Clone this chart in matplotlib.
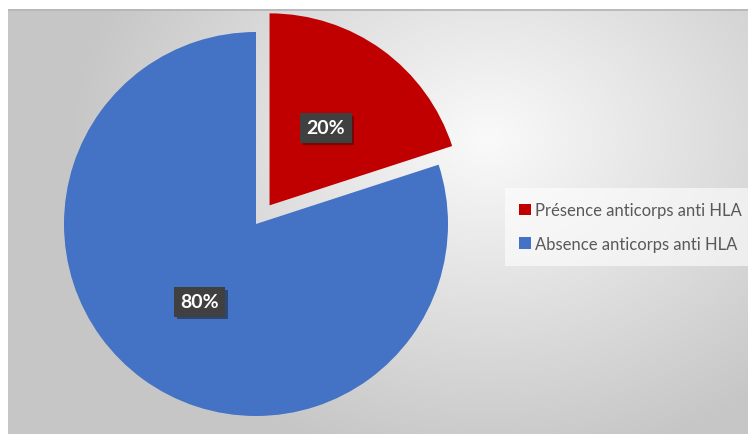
import numpy as np
import matplotlib
matplotlib.use("Agg")
import matplotlib.pyplot as plt
import matplotlib.patheffects as pe

labels = ["Présence anticorps anti HLA", "Absence anticorps anti HLA"]
values = [20, 80]
colors = ["#C00000", "#4472C4"]
explode = [0.12, 0.0]

W, H = 748, 435
fig = plt.figure(figsize=(W / 100, H / 100), dpi=100)
fig.patch.set_facecolor("white")

# chart area with a soft radial grey background
bg = fig.add_axes([8 / W, 0, 1 - 8 / W, (H - 10) / H])
bw, bh = W - 8, H - 10
yy, xx = np.mgrid[0:bh, 0:bw]
d = np.sqrt(((xx - 480) / 420.0) ** 2 + ((yy - 130) / 330.0) ** 2)
shade = 250 - 52 * np.clip(d, 0, 1) ** 1.0
img = np.dstack([shade, shade, shade]) / 255.0
bg.imshow(img, aspect="auto", extent=(0, bw, bh, 0))
bg.axhline(0.5, color="#b4b4b4", lw=1.2)
bg.set_xlim(0, bw)
bg.set_ylim(bh, 0)
bg.axis("off")

# pie axes: centre at (256, 225) px, radius 192 px
R = 192.0
half = 205.0
cx, cy = 256, 225
ax = fig.add_axes([(cx - half) / W, (H - cy - half) / H, 2 * half / W, 2 * half / H])
ax.patch.set_alpha(0)
wedges, _, pcts = ax.pie(values, colors=colors, explode=explode, startangle=90,
                         counterclock=False, autopct="%1.0f%%", pctdistance=0.5,
                         wedgeprops=dict(linewidth=0))
lim = half / R
ax.set_xlim(-lim, lim)
ax.set_ylim(-lim, lim)
ax.set_aspect("equal")

for t in pcts:
    t.set_color("white")
    t.set_fontsize(14)
    t.set_fontweight("bold")
    t.set_family("Lato")
    t.set_bbox(dict(boxstyle="square,pad=0.33", facecolor="#404040", edgecolor="none"))
    t.get_bbox_patch().set_path_effects([
        pe.SimplePatchShadow(offset=(2, -2), alpha=0.45), pe.Normal()])

leg = fig.legend(wedges, labels, loc="upper left",
                 bbox_to_anchor=(505 / W, 1 - 189 / H), borderaxespad=0,
                 frameon=True, fancybox=False, handlelength=0.7, handleheight=0.7,
                 handletextpad=0.25, labelspacing=1.05, borderpad=0.85,
                 prop={"family": "Lato", "size": 12})
leg.get_frame().set_facecolor("white")
leg.get_frame().set_alpha(0.6)
leg.get_frame().set_edgecolor("none")
for txt in leg.get_texts():
    txt.set_color("#595959")

fig.savefig("out.png", dpi=100)
